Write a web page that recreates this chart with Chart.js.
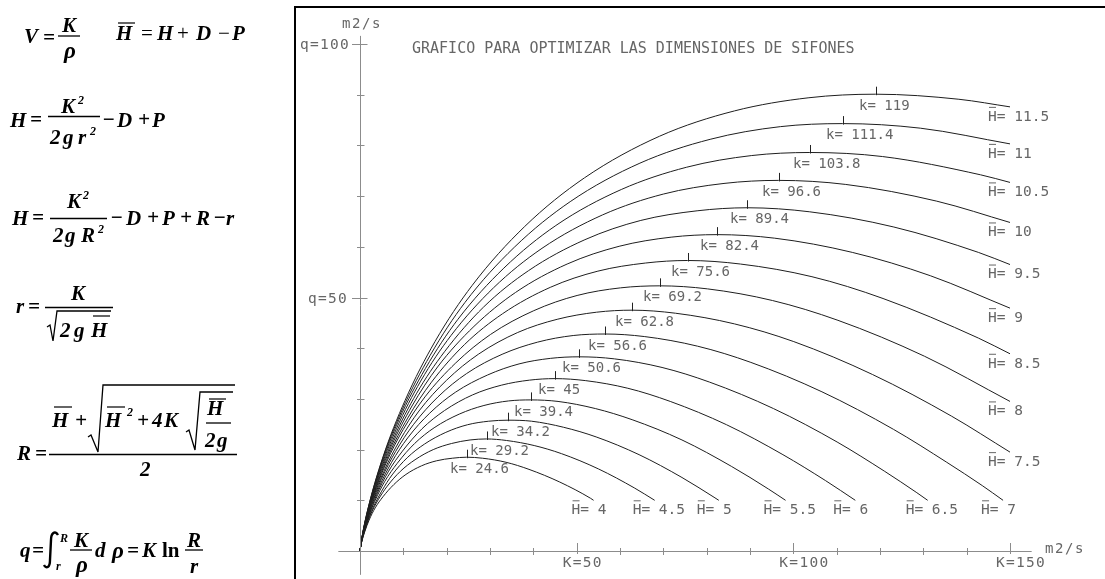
<!DOCTYPE html>
<html>
<head>
<meta charset="utf-8">
<title>Grafico para optimizar las dimensiones de sifones</title>
<script src="https://cdn.jsdelivr.net/npm/chart.js@4.4.1/dist/chart.umd.min.js"></script>
<style>
  html, body { margin: 0; padding: 0; background: #fff; }
  #wrap { position: relative; width: 1105px; height: 579px; overflow: hidden; }
  #chart { position: absolute; left: 0; top: 0; }
  #formulas { position: absolute; left: 0; top: 0; }
  #formulas text { font-family: "Liberation Serif", "Times New Roman", serif; font-weight: bold; font-style: italic; font-size: 21px; fill: #000; }
  #formulas text.op { font-weight: normal; font-style: normal; }
  #formulas text.up { font-style: normal; }
  #formulas text.sm { font-size: 12px; }
  #formulas text.big { font-size: 23px; }
</style>
</head>
<body>
<div id="wrap">
<canvas id="chart" width="1105" height="579"></canvas>
<svg id="formulas" width="294" height="579">
  <!-- V = K / rho      H = H + D - P -->
  <text x="24" y="43">V</text>
  <text x="43" y="44">=</text>
  <text x="62" y="32">K</text>
  <text x="64" y="58" class="big">ρ</text>
  <text x="116" y="40">H</text>
  <text x="141" y="40" class="op">=</text>
  <text x="157" y="40">H</text>
  <text x="177" y="40" class="op">+</text>
  <text x="196" y="40">D</text>
  <text x="218" y="40" class="op">−</text>
  <text x="232" y="40">P</text>

  <!-- H = K^2 / (2 g r^2) - D + P -->
  <text x="10" y="127">H</text>
  <text x="30" y="126">=</text>
  <text x="61" y="113">K</text>
  <text x="78" y="104" class="sm">2</text>
  <text x="50" y="144">2</text>
  <text x="63" y="144">g</text>
  <text x="78" y="144">r</text>
  <text x="90" y="135" class="sm">2</text>
  <text x="102" y="126">−</text>
  <text x="117" y="127">D</text>
  <text x="138" y="126">+</text>
  <text x="152" y="127">P</text>

  <!-- H = K^2 / (2 g R^2) - D + P + R - r -->
  <text x="12" y="225">H</text>
  <text x="32" y="224">=</text>
  <text x="67" y="208">K</text>
  <text x="83" y="199" class="sm">2</text>
  <text x="53" y="242">2</text>
  <text x="65" y="242">g</text>
  <text x="81" y="242">R</text>
  <text x="98" y="233" class="sm">2</text>
  <text x="110" y="224">−</text>
  <text x="126" y="225">D</text>
  <text x="147" y="224">+</text>
  <text x="162" y="225">P</text>
  <text x="180" y="224">+</text>
  <text x="196" y="225">R</text>
  <text x="213" y="224">−</text>
  <text x="226" y="225">r</text>

  <!-- r = K / sqrt(2 g H) -->
  <text x="16" y="313">r</text>
  <text x="28" y="313">=</text>
  <text x="71" y="300">K</text>
  <text x="60" y="337">2</text>
  <text x="74" y="337">g</text>
  <text x="91" y="337">H</text>

  <!-- R = (H + sqrt(H^2 + 4 K sqrt(H / 2g))) / 2 -->
  <text x="17" y="460">R</text>
  <text x="35" y="460">=</text>
  <text x="52" y="427">H</text>
  <text x="75" y="427">+</text>
  <text x="105" y="427">H</text>
  <text x="127" y="416" class="sm">2</text>
  <text x="137" y="427">+</text>
  <text x="152" y="427">4</text>
  <text x="164" y="427">K</text>
  <text x="207" y="415">H</text>
  <text x="205" y="447">2</text>
  <text x="217" y="447">g</text>
  <text x="140" y="476">2</text>

  <!-- q = int_r^R K/rho d rho = K ln R/r -->
  <text x="20" y="557">q</text>
  <text x="32" y="557">=</text>
  <path d="M58,535 C55,530 51,533 51,540 L50,560 C50,568 46,569 44,565" stroke="#000" stroke-width="2.4" fill="none"/>
  <text x="60" y="542" class="sm">R</text>
  <text x="56" y="570" class="sm">r</text>
  <text x="74" y="547">K</text>
  <text x="76" y="572" class="big">ρ</text>
  <text x="95" y="557">d</text>
  <text x="112" y="558" class="big">ρ</text>
  <text x="127" y="557">=</text>
  <text x="142" y="557">K</text>
  <text x="162" y="557" class="up">ln</text>
  <text x="187" y="547">R</text>
  <text x="190" y="573">r</text>

  <g stroke="#000" stroke-width="1.3" fill="none">
    <line x1="58" y1="36" x2="80" y2="36"/>
    <line x1="48" y1="116.5" x2="100" y2="116.5"/>
    <line x1="50" y1="218.5" x2="107" y2="218.5"/>
    <line x1="45" y1="307.5" x2="113" y2="307.5"/>
    <polyline points="47,327 50,325 53,341 57,311 111,311"/>
    <line x1="49" y1="454.5" x2="237" y2="454.5"/>
    <polyline points="88,437 91,435 98,452 103,385 235,385"/>
    <polyline points="186,432 189,430 195,450 200,392 233,392"/>
    <line x1="206" y1="423" x2="231" y2="423"/>
    <line x1="70" y1="550" x2="92" y2="550"/>
    <line x1="185" y1="550" x2="203" y2="550"/>
  </g>
  <g stroke="#666" stroke-width="2">
    <line x1="118" y1="23" x2="135" y2="23"/>
    <line x1="93" y1="316" x2="110" y2="316"/>
    <line x1="54" y1="407" x2="72" y2="407"/>
    <line x1="107" y1="407" x2="125" y2="407"/>
    <line x1="209" y1="399" x2="226" y2="399"/>
  </g>
</svg>
</div>
<script>
// H-bar values of each curve, the k value at each curve's top
const hBar = [4, 4.5, 5, 5.5, 6, 6.5, 7, 7.5, 8, 8.5, 9, 9.5, 10, 10.5, 11, 11.5];
const peakK = [24.6, 29.2, 34.2, 39.4, 45, 50.6, 56.6, 62.8, 69.2, 75.6, 82.4, 89.4, 96.6, 103.8, 111.4, 119];

// points: K (m2/s) and q (m2/s)
const curveK = [
    [0, 0.11, 0.35, 1.1, 2.1, 3.5, 5.3, 7.8, 10.6, 14.2, 17.7, 21.3, 24.6, 28.3, 33.7, 39.0, 46.1, 53.2, 53.9],
    [0, 0.13, 0.42, 1.3, 2.5, 4.2, 6.3, 9.3, 12.7, 16.9, 21.1, 25.4, 29.2, 33.8, 40.2, 46.5, 55.0, 63.4, 68.0],
    [0, 0.15, 0.50, 1.5, 3.0, 5.0, 7.4, 10.9, 14.9, 19.8, 24.8, 29.7, 34.2, 39.6, 47.0, 54.5, 64.4, 74.3, 81.7, 82.8],
    [0, 0.17, 0.57, 1.7, 3.4, 5.7, 8.6, 12.6, 17.1, 22.9, 28.6, 34.3, 39.4, 45.7, 54.3, 62.8, 74.3, 85.7, 94.3, 98.2],
    [0, 0.20, 0.65, 2.0, 3.9, 6.5, 9.8, 14.3, 19.5, 26.0, 32.6, 39.1, 45, 52.1, 61.8, 71.6, 84.6, 97.6, 107.4, 114.3],
    [0, 0.22, 0.73, 2.2, 4.4, 7.3, 11.0, 16.1, 22.0, 29.4, 36.7, 44.0, 50.6, 58.7, 69.7, 80.7, 95.4, 110.1, 121.1, 128.5, 131.0],
    [0, 0.25, 0.82, 2.5, 4.9, 8.2, 12.3, 18.0, 24.6, 32.8, 41.0, 49.2, 56.6, 65.6, 77.9, 90.2, 106.6, 123.1, 135.4, 143.6, 148.4],
    [0, 0.27, 0.91, 2.7, 5.5, 9.1, 13.6, 20.0, 27.3, 36.4, 45.5, 54.6, 62.8, 72.8, 86.4, 100.1, 118.3, 136.5, 150],
    [0, 0.30, 1.0, 3.0, 6.0, 10.0, 15.0, 22.1, 30.1, 40.1, 50.1, 60.1, 69.2, 80.2, 95.2, 110.3, 130.3, 150],
    [0, 0.33, 1.1, 3.3, 6.6, 11.0, 16.5, 24.1, 32.9, 43.9, 54.9, 65.9, 75.6, 87.8, 104.3, 120.7, 142.7, 150],
    [0, 0.36, 1.2, 3.6, 7.2, 12.0, 17.9, 26.3, 35.9, 47.8, 59.8, 71.8, 82.4, 95.7, 113.6, 131.6, 150],
    [0, 0.39, 1.3, 3.9, 7.8, 13.0, 19.5, 28.5, 38.9, 51.9, 64.8, 77.8, 89.4, 103.8, 123.2, 142.7, 150],
    [0, 0.42, 1.4, 4.2, 8.4, 14.0, 21.0, 30.8, 42.0, 56.0, 70.0, 84.0, 96.6, 112.1, 133.1, 150],
    [0, 0.45, 1.5, 4.5, 9.0, 15.1, 22.6, 33.2, 45.2, 60.3, 75.4, 90.4, 103.8, 120.6, 143.2, 150],
    [0, 0.48, 1.6, 4.8, 9.7, 16.2, 24.2, 35.6, 48.5, 64.6, 80.8, 97.0, 111.4, 129.3, 150],
    [0, 0.52, 1.73, 5.2, 10.4, 17.3, 25.9, 38.0, 51.8, 69.1, 86.4, 103.6, 119, 138.2, 150]
];
const curveQ = [
    [0, 0.62, 1.64, 3.8, 6.1, 8.5, 10.7, 13.1, 15.1, 16.8, 17.8, 18.3, 18.5, 18.3, 17.5, 16.1, 13.6, 10.4, 10.0],
    [0, 0.74, 1.95, 4.5, 7.3, 10.1, 12.8, 15.7, 18.0, 20.0, 21.2, 21.9, 22.1, 21.8, 20.8, 19.2, 16.2, 12.4, 10.0],
    [0, 0.86, 2.29, 5.3, 8.5, 11.8, 15.0, 18.4, 21.1, 23.4, 24.9, 25.6, 25.8, 25.6, 24.4, 22.5, 19.0, 14.5, 10.6, 10.0],
    [0, 1.0, 2.64, 6.1, 9.8, 13.7, 17.3, 21.2, 24.3, 27.0, 28.7, 29.6, 29.8, 29.5, 28.1, 25.9, 21.9, 16.7, 12.2, 10.0],
    [0, 1.14, 3.0, 6.9, 11.2, 15.6, 19.7, 24.1, 27.7, 30.8, 32.7, 33.7, 34.0, 33.6, 32.1, 29.5, 24.9, 19.0, 13.9, 10.0],
    [0, 1.28, 3.39, 7.8, 12.6, 17.5, 22.3, 27.2, 31.3, 34.7, 36.9, 38.0, 38.3, 37.9, 36.2, 33.3, 28.1, 21.5, 15.7, 11.5, 10.0],
    [0, 1.43, 3.79, 8.7, 14.1, 19.6, 24.9, 30.4, 35.0, 38.8, 41.2, 42.5, 42.8, 42.3, 40.4, 37.2, 31.4, 24.0, 17.5, 12.9, 10.0],
    [0, 1.59, 4.2, 9.6, 15.7, 21.7, 27.6, 33.7, 38.8, 43.1, 45.7, 47.1, 47.5, 46.9, 44.8, 41.3, 34.8, 26.6, 19.5],
    [0, 1.75, 4.63, 10.6, 17.3, 24.0, 30.4, 37.1, 42.7, 47.4, 50.4, 51.9, 52.3, 51.7, 49.4, 45.5, 38.4, 29.5],
    [0, 1.91, 5.07, 11.6, 18.9, 26.2, 33.3, 40.7, 46.8, 52.0, 55.2, 56.8, 57.3, 56.6, 54.1, 49.8, 42.0, 38.9],
    [0, 2.09, 5.52, 12.7, 20.6, 28.6, 36.3, 44.3, 51.0, 56.6, 60.1, 61.9, 62.4, 61.7, 58.9, 54.3, 47.9],
    [0, 2.26, 5.99, 13.8, 22.3, 31.0, 39.3, 48.1, 55.3, 61.4, 65.2, 67.1, 67.7, 66.9, 63.9, 58.9, 56.5],
    [0, 2.44, 6.46, 14.9, 24.1, 33.5, 42.5, 51.9, 59.7, 66.3, 70.4, 72.5, 73.1, 72.3, 69.0, 64.8],
    [0, 2.63, 6.96, 16.0, 25.9, 36.0, 45.7, 55.8, 64.2, 71.3, 75.7, 78.0, 78.6, 77.8, 74.2, 72.7],
    [0, 2.82, 7.46, 17.1, 27.8, 38.6, 49.0, 59.9, 68.9, 76.5, 81.2, 83.7, 84.3, 83.4, 80.3],
    [0, 3.01, 7.97, 18.3, 29.7, 41.3, 52.4, 64.0, 73.6, 81.8, 86.8, 89.4, 90.1, 89.1, 87.6]
];

// axis ticks and texts
const kMajor = [50, 100, 150];
const kMinor = [10, 20, 30, 40, 60, 70, 80, 90, 110, 120, 130, 140];
const qMajor = [50, 100];
const qMinor = [10, 20, 30, 40, 60, 70, 80, 90];
const titleText = 'GRAFICO PARA OPTIMIZAR LAS DIMENSIONES DE SIFONES';
const unitText = 'm2/s';

const TEXT = '#666';
const AXIS = '#8c8c8c';

function put(ctx, s, x, yMid, size, spacing) {
    ctx.font = size + 'px "DejaVu Sans Mono", monospace';
    ctx.letterSpacing = (spacing || 0) + 'px';
    ctx.textAlign = 'left';
    ctx.textBaseline = 'alphabetic';
    ctx.fillStyle = TEXT;
    ctx.fillText(s, x, yMid + size * 0.365);
}

function seg(ctx, x1, y1, x2, y2) {
    ctx.beginPath();
    ctx.moveTo(x1, y1);
    ctx.lineTo(x2, y2);
    ctx.stroke();
}

const drawing = {
    id: 'drawing',
    afterDatasetsDraw(chart) {
        const ctx = chart.ctx;
        const X = v => chart.scales.x.getPixelForValue(v);
        const Y = v => chart.scales.y.getPixelForValue(v);
        ctx.save();

        // frame
        ctx.fillStyle = '#000';
        ctx.fillRect(294, 6, 2, 573);
        ctx.fillRect(294, 6, 811, 2);

        // axes
        const x0 = Math.round(X(0)) + 0.5, y0 = Math.round(Y(0)) + 0.5;
        ctx.strokeStyle = AXIS;
        ctx.lineWidth = 1;
        seg(ctx, X(-5), y0, X(155), y0);
        seg(ctx, x0, Y(101.6), x0, Y(-4.7));
        kMinor.forEach(k => { const px = Math.round(X(k)) + 0.5; seg(ctx, px, y0 - 3.5, px, y0 + 3.5); });
        kMajor.forEach(k => { const px = Math.round(X(k)) + 0.5; seg(ctx, px, y0 - 8.5, px, y0 + 2.5); });
        qMinor.forEach(q => { const py = Math.round(Y(q)) + 0.5; seg(ctx, x0 - 3.5, py, x0 + 4, py); });
        qMajor.forEach(q => { const py = Math.round(Y(q)) + 0.5; seg(ctx, x0 - 8.5, py, x0 + 7, py); });

        // axis texts
        kMajor.forEach(k => put(ctx, 'K=' + k, X(k) - 14, Y(0) + 11, 14.5, 1.3));
        put(ctx, 'q=100', X(0) - 60, Y(100), 14.5, 1.3);
        put(ctx, 'q=50', X(0) - 52, Y(50), 14.5, 1.3);
        put(ctx, unitText, X(0) - 18, 23, 14, 1.6);
        put(ctx, unitText, X(150) + 35, Y(0) - 3, 14, 1.6);

        // title
        put(ctx, titleText, 412, 48, 15, 0);

        // curve marks: top of each curve and H-bar at its end
        ctx.strokeStyle = '#222';
        hBar.forEach((h, i) => {
            const ks = curveK[i], qs = curveQ[i];
            const ip = ks.indexOf(peakK[i]);
            const px = Math.round(X(peakK[i])) + 0.5, py = Y(qs[ip]);
            seg(ctx, px, py - 7.5, px, py + 1);
            put(ctx, 'k= ' + peakK[i], px - 17.5, py + 10.5, 14, 0);

            const n = ks.length - 1;
            const ex = X(ks[n]) - 22, ey = Y(qs[n]) + 8.5;
            put(ctx, 'H= ' + h, ex, ey, 14.5, 0);
            ctx.strokeStyle = TEXT;
            seg(ctx, ex + 1, ey - 8, ex + 8, ey - 8);
            ctx.strokeStyle = '#222';
        });
        ctx.restore();
    }
};

const datasets = hBar.map((h, i) => ({
    label: 'H = ' + h,
    data: curveK[i].map((k, j) => ({ x: k, y: curveQ[i][j] })),
    showLine: true,
    borderColor: '#1e1e1e',
    borderWidth: 1,
    pointRadius: 0,
    fill: false,
    cubicInterpolationMode: 'monotone'
}));

const ctx = document.getElementById('chart').getContext('2d');
const myChart = new Chart(ctx, {
    type: 'scatter',
    data: { datasets: datasets },
    options: {
        responsive: false,
        animation: false,
        layout: {
            padding: { left: 338.333, right: 8.333, top: 18.65, bottom: 2.65 }
        },
        scales: {
            x: { type: 'linear', min: -5, max: 170, display: false },
            y: { type: 'linear', min: -5, max: 105, display: false }
        },
        plugins: {
            legend: { display: false },
            tooltip: { enabled: false }
        }
    },
    plugins: [drawing]
});
</script>
</body>
</html>
